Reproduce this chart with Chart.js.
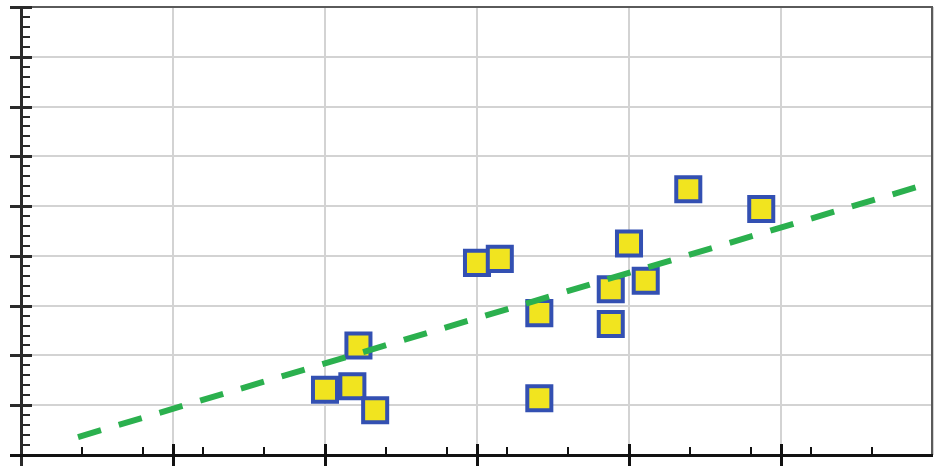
<!DOCTYPE html>
<html>
<head>
<meta charset="utf-8">
<script src="https://cdn.jsdelivr.net/npm/chart.js@4.4.1/dist/chart.umd.min.js"></script>
<style>
  html, body { margin: 0; padding: 0; background: #ffffff; }
  #wrap { width: 934px; height: 466px; }
</style>
</head>
<body>
<div id="wrap"><canvas id="chart" width="934" height="466"></canvas></div>
<script>
// Measured samples
const xValues = [2.00, 2.18, 2.22, 2.33, 3.00, 3.15, 3.41, 3.41, 3.88, 3.88, 4.00, 4.11, 4.39, 4.87];
const yValues = [1.31, 1.38, 2.20, 0.90, 3.86, 3.94, 2.85, 1.14, 3.33, 2.63, 4.25, 3.50, 5.34, 4.94];

// Fitted trend line end points
const trendX = [0.375, 5.89];
const trendY = [0.36, 5.38];

// Axis ranges and tick spacing (no tick labels are shown)
const xRange = [0, 6];
const yRange = [0, 9];
const xMajorStep = 1;
const xMinorStep = 0.4;
const yMajorStep = 1;
const yMinorStep = 0.2;

const points = xValues.map((x, i) => ({ x: x, y: yValues[i] }));
const trend = trendX.map((x, i) => ({ x: x, y: trendY[i] }));

// Draws the frame, axis lines and the major/minor tick marks
const axisFrame = {
  id: 'axisFrame',
  afterDraw(chart) {
    const { ctx, chartArea: a, scales } = chart;
    const xs = scales.x, ys = scales.y;
    ctx.save();

    // top and right border
    ctx.strokeStyle = '#5a5a5a';
    ctx.lineWidth = 2;
    ctx.beginPath();
    ctx.moveTo(a.left, a.top);
    ctx.lineTo(a.right - 1, a.top);
    ctx.lineTo(a.right - 1, a.bottom);
    ctx.stroke();

    // y minor ticks (inward)
    ctx.strokeStyle = '#2a2a2a';
    ctx.lineWidth = 2;
    const nyMinor = Math.round((yRange[1] - yRange[0]) / yMinorStep);
    for (let i = 0; i <= nyMinor; i++) {
      const py = Math.round(ys.getPixelForValue(yRange[0] + i * yMinorStep));
      ctx.beginPath();
      ctx.moveTo(a.left, py);
      ctx.lineTo(a.left + 9, py);
      ctx.stroke();
    }
    // y major ticks (crossing)
    ctx.lineWidth = 3;
    const nyMajor = Math.round((yRange[1] - yRange[0]) / yMajorStep);
    for (let i = 0; i <= nyMajor; i++) {
      const py = Math.round(ys.getPixelForValue(yRange[0] + i * yMajorStep)) + 0.5;
      ctx.beginPath();
      ctx.moveTo(a.left - 11, py);
      ctx.lineTo(a.left + 11, py);
      ctx.stroke();
    }

    // x minor ticks (upward)
    ctx.strokeStyle = '#111111';
    ctx.lineWidth = 2;
    const nxMinor = Math.round((xRange[1] - xRange[0]) / xMinorStep);
    for (let i = 1; i < nxMinor; i++) {
      const px = Math.round(xs.getPixelForValue(xRange[0] + i * xMinorStep));
      ctx.beginPath();
      ctx.moveTo(px, a.bottom);
      ctx.lineTo(px, a.bottom - 8);
      ctx.stroke();
    }
    // x major ticks (crossing)
    ctx.lineWidth = 3;
    const nxMajor = Math.round((xRange[1] - xRange[0]) / xMajorStep);
    for (let i = 1; i < nxMajor; i++) {
      const px = Math.round(xs.getPixelForValue(xRange[0] + i * xMajorStep)) + 0.5;
      ctx.beginPath();
      ctx.moveTo(px, a.bottom - 11);
      ctx.lineTo(px, a.bottom + 11);
      ctx.stroke();
    }

    // left axis line
    ctx.strokeStyle = '#2a2a2a';
    ctx.lineWidth = 3;
    ctx.beginPath();
    ctx.moveTo(a.left + 0.5, a.top - 1);
    ctx.lineTo(a.left + 0.5, a.bottom + 11);
    ctx.stroke();

    // bottom axis line
    ctx.strokeStyle = '#111111';
    ctx.lineWidth = 3;
    ctx.beginPath();
    ctx.moveTo(a.left - 11, a.bottom + 0.5);
    ctx.lineTo(a.right, a.bottom + 0.5);
    ctx.stroke();

    ctx.restore();
  }
};

new Chart(document.getElementById('chart'), {
  type: 'scatter',
  data: {
    datasets: [
      {
        type: 'line',
        data: trend,
        borderColor: '#2bb04e',
        borderWidth: 6,
        borderDash: [24, 18.5],
        borderCapStyle: 'butt',
        pointRadius: 0,
        fill: false,
        order: 0
      },
      {
        data: points,
        pointStyle: 'rect',
        pointRadius: 17,
        pointHoverRadius: 17,
        pointBackgroundColor: '#f1e41f',
        pointBorderColor: '#3350b2',
        pointBorderWidth: 4,
        order: 1
      }
    ]
  },
  options: {
    responsive: false,
    animation: false,
    events: [],
    layout: { autoPadding: false, padding: { left: 21, right: 1, top: 7, bottom: 11 } },
    plugins: { legend: { display: false }, tooltip: { enabled: false } },
    scales: {
      x: {
        type: 'linear',
        min: xRange[0], max: xRange[1],
        ticks: { display: false, stepSize: xMajorStep },
        grid: { color: '#d3d3d3', lineWidth: 2, drawTicks: false },
        border: { display: false }
      },
      y: {
        type: 'linear',
        min: yRange[0], max: yRange[1],
        ticks: { display: false, stepSize: yMajorStep },
        grid: { color: '#d3d3d3', lineWidth: 2, drawTicks: false },
        border: { display: false }
      }
    }
  },
  plugins: [axisFrame]
});
</script>
</body>
</html>
